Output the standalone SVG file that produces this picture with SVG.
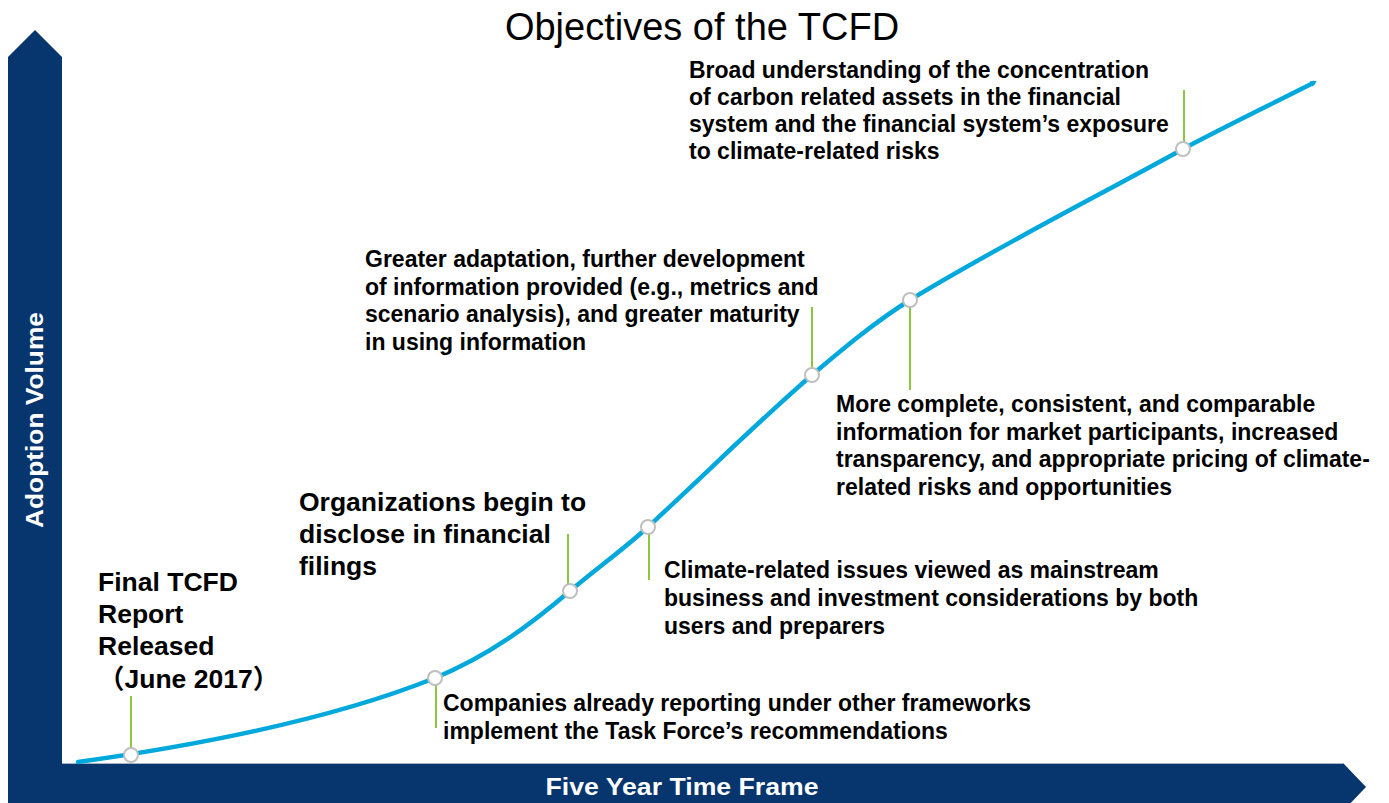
<svg xmlns="http://www.w3.org/2000/svg" width="1389" height="803" viewBox="0 0 1389 803">
<defs>
<style>
.t{font-family:"Liberation Sans",Arial,sans-serif;font-weight:bold;fill:#000;font-size:23px}
.big{font-size:26.5px}
.w{fill:#fff;font-size:23px}
.title{font-family:"Liberation Sans",Arial,sans-serif;font-size:38px;fill:#000}
.lead{stroke:#8CC63E;stroke-width:2;fill:none}
.dot{fill:#fff;stroke:#BFBFBF;stroke-width:2}
.curve{fill:none;stroke:#00A8DC;stroke-width:4.5;stroke-linecap:round}
</style>
<marker id="tip" viewBox="0 0 6 6" refX="2" refY="3" markerWidth="1.4" markerHeight="1.4" orient="auto"><path d="M0,0 L6,3 L0,6 z" fill="#00A8DC"/></marker>
</defs>
<rect width="1389" height="803" fill="#fff"/>
<g id="axes">
<path id="y-axis" d="M8,803 L8,57 L35,30 L62,57 L62,803 Z" fill="#07356E"/>
<path id="x-axis" d="M8,763 L1343,763 L1366,787 L1343,811 L8,811 Z" fill="#07356E"/>
<line x1="62" y1="763.5" x2="1343" y2="763.5" stroke="#A8B2C2" stroke-width="1"/>
<text class="t w" x="682" y="795" text-anchor="middle" textLength="273" lengthAdjust="spacingAndGlyphs">Five Year Time Frame</text>
<text class="t w" transform="translate(43,420) rotate(-90)" text-anchor="middle" textLength="216" lengthAdjust="spacingAndGlyphs">Adoption Volume</text>
</g>
<text class="title" x="702" y="40" text-anchor="middle">Objectives of the TCFD</text>
<g id="connectors">
<path class="curve" marker-end="url(#tip)" d="M78,762 C200,745 330,720 435,678 C490,655 530,625 570,591 C600,566 625,548 648,527 C720,460 760,420 812,375 C845,347 875,322 910,300 C1000,245 1100,195 1183,149 C1230,124 1280,100 1313,83"/>
<line class="lead" x1="131" y1="696" x2="131" y2="748"/>
<line class="lead" x1="436" y1="685" x2="436" y2="728"/>
<line class="lead" x1="568" y1="534" x2="568" y2="584"/>
<line class="lead" x1="649" y1="534" x2="649" y2="580"/>
<line class="lead" x1="812" y1="307" x2="812" y2="368"/>
<line class="lead" x1="910" y1="307" x2="910" y2="390"/>
<line class="lead" x1="1184" y1="90" x2="1184" y2="142"/>
</g>
<g id="n1">
<circle class="dot" cx="131" cy="755" r="7"/>
<text class="t big" x="98" y="591">Final TCFD</text>
<text class="t big" x="98" y="623">Report</text>
<text class="t big" x="98" y="655">Released</text>
<text class="t big" x="98" y="688" style="font-family:'Liberation Sans','Noto Sans CJK JP',sans-serif">（June 2017）</text>
</g>
<g id="n2">
<circle class="dot" cx="435" cy="678" r="7"/>
<text class="t" x="443" y="711">Companies already reporting under other frameworks</text>
<text class="t" x="443" y="739">implement the Task Force’s recommendations</text>
</g>
<g id="n3">
<circle class="dot" cx="570" cy="591" r="7"/>
<text class="t big" x="299" y="511">Organizations begin to</text>
<text class="t big" x="299" y="543">disclose in financial</text>
<text class="t big" x="299" y="575">filings</text>
</g>
<g id="n4">
<circle class="dot" cx="648" cy="527" r="7"/>
<text class="t" x="664" y="578">Climate-related issues viewed as mainstream</text>
<text class="t" x="664" y="606">business and investment considerations by both</text>
<text class="t" x="664" y="634">users and preparers</text>
</g>
<g id="n5">
<circle class="dot" cx="812" cy="375" r="7"/>
<text class="t" x="365" y="267">Greater adaptation, further development</text>
<text class="t" x="365" y="295">of information provided (e.g., metrics and</text>
<text class="t" x="365" y="322">scenario analysis), and greater maturity</text>
<text class="t" x="365" y="350">in using information</text>
</g>
<g id="n6">
<circle class="dot" cx="910" cy="300" r="7"/>
<text class="t" x="836" y="412">More complete, consistent, and comparable</text>
<text class="t" x="836" y="440">information for market participants, increased</text>
<text class="t" x="836" y="467">transparency, and appropriate pricing of climate-</text>
<text class="t" x="836" y="495">related risks and opportunities</text>
</g>
<g id="n7">
<circle class="dot" cx="1183" cy="149" r="7"/>
<text class="t" x="689" y="78">Broad understanding of the concentration</text>
<text class="t" x="689" y="105">of carbon related assets in the financial</text>
<text class="t" x="689" y="132">system and the financial system’s exposure</text>
<text class="t" x="689" y="159">to climate-related risks</text>
</g>
</svg>
